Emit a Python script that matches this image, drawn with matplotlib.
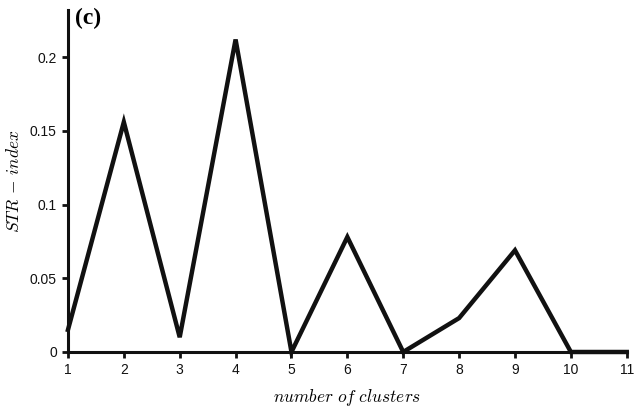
import matplotlib
matplotlib.use("Agg")
import matplotlib.pyplot as plt

# STR-index for each candidate number of clusters
clusters = [1, 2, 3, 4, 5, 6, 7, 8, 9, 10, 11]
str_index = [0.015, 0.156, 0.010, 0.212, 0.0, 0.078, 0.0, 0.023, 0.069, 0.0, 0.0]

y_ticks = [0, 0.05, 0.1, 0.15, 0.2]
y_tick_labels = ["0", "0.05", "0.1", "0.15", "0.2"]

plt.rcParams["mathtext.fontset"] = "cm"
plt.rcParams["font.family"] = "Liberation Sans"

fig = plt.figure(figsize=(6.35, 4.11), dpi=100)
ax = fig.add_axes([0.107, 0.1436, 0.880, 0.832])

ax.plot(clusters, str_index, color="#111111", lw=3.2, solid_joinstyle="miter",
        clip_on=False, zorder=3)

ax.set_xlim(1, 11)
ax.set_ylim(0, 0.232)
ax.set_xticks(clusters)
ax.set_yticks(y_ticks)
ax.set_yticklabels(y_tick_labels)

for side in ("top", "right"):
    ax.spines[side].set_visible(False)
for side in ("left", "bottom"):
    ax.spines[side].set_linewidth(2.2)
    ax.spines[side].set_color("#111111")

ax.tick_params(direction="out", length=4, width=2, colors="#111111",
               labelsize=10, pad=4)

ax.set_xlabel(r"$number\ of\ clusters$", fontsize=12.5, labelpad=7)
ax.set_ylabel(r"$STR\,-\,index$", fontsize=12.5, labelpad=6)

ax.text(0.012, 1.005, "(c)", transform=ax.transAxes, fontsize=17,
        fontweight="bold", family="Liberation Serif", va="top", ha="left")

fig.savefig("out.png", dpi=100)
